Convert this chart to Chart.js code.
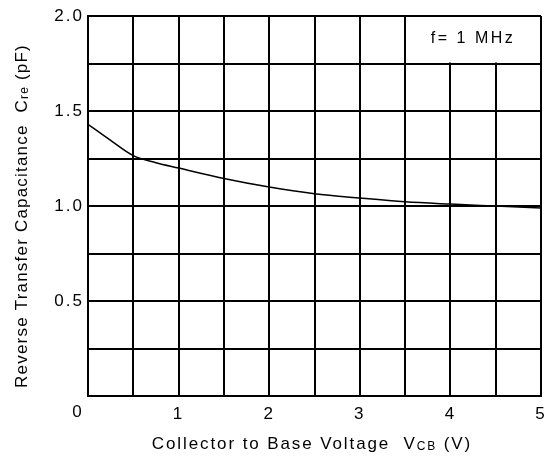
<!DOCTYPE html>
<html>
<head>
<meta charset="utf-8">
<script src="https://cdn.jsdelivr.net/npm/chart.js@4/dist/chart.umd.min.js"></script>
<style>
  body { margin: 0; background: #fff; }
  #grafico { display: block; }
</style>
</head>
<body>
<canvas id="grafico" width="555" height="471"></canvas>
<script>
// Datos
var voltajes = [0, 0.25, 0.5, 0.75, 1, 1.5, 2, 2.5, 3, 3.5, 4, 4.5, 5];
var capacitancias = [1.43, 1.345, 1.265, 1.228, 1.2, 1.145, 1.1, 1.065, 1.042, 1.022, 1.01, 1.0, 0.99];

// Etiquetas de los ejes
var etiquetasX = {1: '1', 2: '2', 3: '3', 4: '4', 5: '5'};
var etiquetasY = {0.5: '0.5', 1: '1.0', 1.5: '1.5', 2: '2.0'};
var tituloY = [{t: 'Reverse Transfer Capacitance  C'}, {t: 're', sub: true}, {t: ' (pF)'}];
var tituloX = [{t: 'Collector to Base Voltage  V'}, {t: 'CB', sub: true}, {t: ' (V)'}];
var notaFrecuencia = 'f= 1 MHz';

var fuente = '"Liberation Sans", Arial, sans-serif';

// Dibuja texto con subindices centrado en (0,0)
function textoConSub(ctx, partes, tam, espacio) {
    var total = 0;
    ctx.letterSpacing = espacio + 'px';
    partes.forEach(function(p) {
        ctx.font = (p.sub ? Math.round(tam * 0.72) : tam) + 'px ' + fuente;
        p.w = ctx.measureText(p.t).width;
        total += p.w;
    });
    var x = -total / 2;
    ctx.textBaseline = 'middle';
    ctx.textAlign = 'left';
    partes.forEach(function(p) {
        ctx.font = (p.sub ? Math.round(tam * 0.72) : tam) + 'px ' + fuente;
        ctx.fillText(p.t, x, p.sub ? tam * 0.18 : 0);
        x += p.w;
    });
}

var extras = {
    id: 'extras',
    beforeDraw: function(chart) {
        // espaciado de letras para las etiquetas de los ticks
        chart.ctx.letterSpacing = '2px';
    },
    afterDraw: function(chart) {
        var ctx = chart.ctx;
        var sx = chart.scales.x, sy = chart.scales.y;
        ctx.save();

        // caja de la frecuencia
        var x0 = sx.getPixelForValue(3.5), x1 = sx.getPixelForValue(5);
        var y0 = sy.getPixelForValue(2), y1 = sy.getPixelForValue(1.75);
        ctx.fillStyle = '#fff';
        ctx.fillRect(x0 + 1, y0 + 1, x1 - x0 - 2, y1 - y0 - 2);
        ctx.fillStyle = '#000';
        ctx.save();
        ctx.translate((x0 + x1) / 2, (y0 + y1) / 2 - 1);
        textoConSub(ctx, [{t: notaFrecuencia}], 16, 2.5);
        ctx.restore();

        // origen compartido
        ctx.letterSpacing = '0px';
        ctx.font = '17px ' + fuente;
        ctx.textAlign = 'center';
        ctx.textBaseline = 'top';
        ctx.fillText('0', chart.chartArea.left - 11, chart.chartArea.bottom + 8);

        // titulos
        ctx.save();
        ctx.translate(22, 216);
        ctx.rotate(-Math.PI / 2);
        textoConSub(ctx, tituloY, 17, 1.2);
        ctx.restore();

        ctx.save();
        ctx.translate(312, 444);
        textoConSub(ctx, tituloX, 17, 1.9);
        ctx.restore();
        ctx.restore();
    }
};

var grafico = new Chart(document.getElementById('grafico').getContext('2d'), {
    type: 'scatter',
    data: {
        datasets: [{
            data: voltajes.map(function(v, i) { return {x: v, y: capacitancias[i]}; }),
            showLine: true,
            borderColor: '#000',
            borderWidth: 1.5,
            pointRadius: 0,
            cubicInterpolationMode: 'monotone'
        }]
    },
    options: {
        responsive: false,
        animation: false,
        layout: { padding: { top: 16, right: 14, left: 0, bottom: 0 } },
        plugins: { legend: { display: false }, tooltip: { enabled: false } },
        scales: {
            x: {
                type: 'linear', min: 0, max: 5,
                afterFit: function(s) { s.height = 75; },
                grid: { color: '#000', lineWidth: 2, drawTicks: false },
                border: { color: '#000', width: 2 },
                ticks: {
                    stepSize: 0.5, padding: 8, color: '#000', maxRotation: 0, autoSkip: false,
                    font: { family: fuente, size: 17 },
                    callback: function(v) { return etiquetasX[v] || ''; }
                }
            },
            y: {
                type: 'linear', min: 0, max: 2,
                afterFit: function(s) { s.width = 88; },
                grid: { color: '#000', lineWidth: 2, drawTicks: false },
                border: { color: '#000', width: 2 },
                ticks: {
                    stepSize: 0.25, padding: 4, color: '#000', autoSkip: false,
                    font: { family: fuente, size: 17 },
                    callback: function(v) { return etiquetasY[v] || ''; }
                }
            }
        }
    },
    plugins: [extras]
});
</script>
</body>
</html>
